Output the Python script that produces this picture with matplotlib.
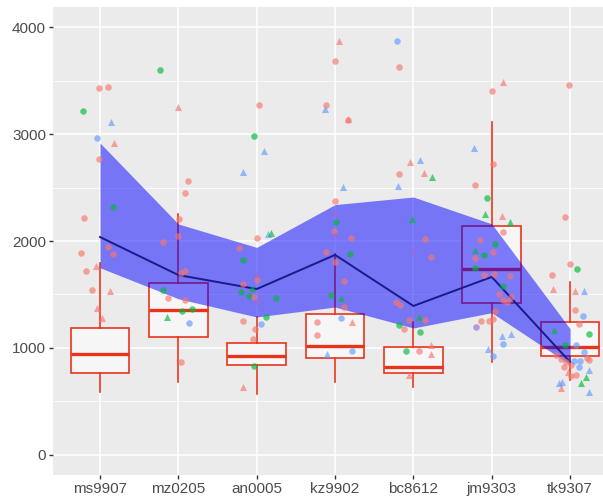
import matplotlib.pyplot as plt

# categories along the x axis
categories = ["ms9907", "mz0205", "an0005", "kz9902", "bc8612", "jm9303", "tk9307"]

# mean line and its band
mean_line = [2037, 1682, 1551, 1870, 1393, 1664, 869]
band_upper = [2916, 2159, 1940, 2340, 2411, 2160, 1180]
band_lower = [1750, 1460, 1290, 1383, 1187, 1330, 845]

# box statistics
box_whislo = [589, 682, 570, 682, 636, 869, 700]
box_q1 = [766, 1103, 841, 907, 766, 1417, 925]
box_med = [944, 1355, 925, 1019, 822, 1738, 1009]
box_q3 = [1187, 1607, 1047, 1318, 1009, 2140, 1243]
box_whishi = [1794, 2252, 1290, 1880, 1243, 3112, 1617]

# jittered points: (jitter, value, group, shape)
ms9907_pts = [(-0.22, 3215, "B", "o"), (-0.01, 3430, "A", "o"), (0.10, 3440, "A", "o"),
              (0.14, 3112, "C", "^"), (-0.04, 2963, "C", "o"), (0.18, 2916, "A", "^"),
              (-0.01, 2766, "A", "o"), (0.17, 2318, "B", "o"), (-0.20, 2215, "A", "o"),
              (0.10, 1944, "A", "o"), (0.17, 1879, "A", "o"), (-0.24, 1888, "A", "o"),
              (-0.18, 1720, "A", "o"), (-0.05, 1766, "A", "^"), (-0.10, 1542, "A", "o"),
              (0.13, 1533, "A", "^"), (-0.04, 1374, "A", "^"), (0.03, 1280, "A", "^")]
mz0205_pts = [(-0.24, 3598, "B", "o"), (0.00, 3252, "A", "^"), (0.12, 2561, "A", "o"),
              (0.09, 2449, "A", "o"), (0.01, 2206, "A", "o"), (-0.20, 1990, "A", "o"),
              (0.00, 2047, "A", "o"), (0.03, 1700, "A", "o"), (0.08, 1720, "A", "o"),
              (-0.19, 1542, "B", "o"), (-0.13, 1467, "A", "o"), (0.09, 1449, "A", "o"),
              (0.05, 1346, "B", "o"), (0.17, 1364, "B", "o"), (-0.15, 1290, "B", "^"),
              (0.13, 1234, "C", "o"), (0.04, 869, "A", "o")]
an0005_pts = [(0.03, 3271, "A", "o"), (-0.04, 2981, "B", "o"), (0.09, 2841, "C", "^"),
              (-0.18, 2645, "C", "^"), (0.14, 2065, "C", "^"), (0.18, 2075, "B", "^"),
              (0.00, 2028, "A", "o"), (-0.23, 1935, "A", "o"), (-0.17, 1822, "B", "o"),
              (0.00, 1682, "D", "o"), (0.01, 1636, "A", "o"), (-0.18, 1598, "A", "o"),
              (-0.20, 1523, "B", "o"), (-0.10, 1486, "B", "o"), (-0.06, 1561, "B", "^"),
              (-0.03, 1477, "A", "o"), (0.00, 1430, "D", "o"), (0.24, 1467, "B", "o"),
              (0.12, 1290, "B", "o"), (0.05, 1224, "C", "o"), (-0.17, 1252, "A", "o"),
              (-0.02, 1178, "A", "o"), (-0.05, 1084, "A", "o"), (-0.03, 832, "B", "o"),
              (-0.17, 636, "A", "^")]
kz9902_pts = [(0.05, 3869, "A", "^"), (0.00, 3682, "A", "o"), (-0.12, 3271, "A", "o"),
              (-0.13, 3234, "C", "^"), (0.17, 3131, "A", "o"), (0.16, 3140, "A", "^"),
              (0.10, 2505, "C", "^"), (0.00, 2374, "A", "o"), (0.00, 2262, "D", "o"),
              (0.01, 2178, "B", "o"), (-0.01, 2093, "A", "o"), (0.00, 2047, "D", "o"),
              (0.20, 2028, "A", "o"), (-0.12, 1897, "A", "o"), (0.19, 1879, "B", "o"),
              (0.00, 1804, "A", "o"), (0.12, 1626, "A", "o"), (-0.05, 1495, "B", "o"),
              (0.08, 1467, "B", "^"), (0.12, 1383, "A", "o"), (0.08, 1280, "C", "o"),
              (0.22, 1243, "A", "^"), (-0.23, 1243, "A", "o"), (-0.23, 1121, "A", "o"),
              (-0.10, 944, "C", "^"), (0.22, 972, "C", "o")]
bc8612_pts = [(-0.21, 3869, "C", "o"), (-0.18, 3626, "A", "o"), (-0.04, 2738, "A", "^"),
              (0.09, 2757, "C", "^"), (-0.18, 2626, "A", "o"), (0.13, 2635, "A", "^"),
              (0.24, 2598, "B", "^"), (-0.20, 2514, "C", "^"), (-0.02, 2206, "B", "^"),
              (0.15, 2019, "A", "o"), (0.00, 1907, "D", "o"), (0.22, 1850, "A", "o"),
              (-0.22, 1430, "A", "o"), (-0.17, 1400, "A", "o"), (-0.05, 1262, "A", "o"),
              (0.07, 1290, "B", "^"), (0.15, 1262, "A", "o"), (-0.19, 1215, "B", "o"),
              (-0.12, 1178, "A", "o"), (0.09, 1150, "B", "o"), (-0.09, 972, "B", "o"),
              (0.07, 972, "A", "o"), (0.23, 944, "A", "^"), (0.23, 1028, "A", "^"),
              (-0.06, 748, "A", "^")]
jm9303_pts = [(0.00, 3402, "A", "o"), (0.15, 3486, "A", "^"), (-0.23, 2869, "C", "^"),
              (0.01, 2720, "A", "o"), (-0.22, 2523, "A", "o"), (-0.06, 2402, "B", "o"),
              (-0.09, 2252, "B", "^"), (0.13, 2234, "A", "^"), (0.23, 2178, "B", "^"),
              (0.15, 2084, "A", "o"), (-0.15, 2009, "A", "o"), (0.04, 1972, "B", "o"),
              (-0.21, 1916, "B", "^"), (-0.22, 1841, "A", "o"), (-0.10, 1869, "B", "o"),
              (0.01, 1897, "A", "o"), (-0.22, 1748, "B", "o"), (-0.10, 1682, "A", "o"),
              (0.03, 1692, "A", "o"), (0.23, 1673, "A", "o"), (0.14, 1579, "B", "o"),
              (0.09, 1505, "A", "o"), (0.14, 1450, "A", "o"), (0.19, 1430, "A", "o"),
              (0.24, 1480, "A", "o"), (0.04, 1346, "A", "o"), (-0.14, 1252, "A", "o"),
              (-0.04, 1252, "A", "o"), (0.01, 1271, "A", "o"), (-0.20, 1196, "D", "o"),
              (0.13, 1112, "C", "^"), (0.24, 1131, "C", "^"), (0.15, 1037, "C", "o"),
              (-0.05, 991, "C", "^"), (0.01, 925, "C", "o")]
tk9307_pts = [(-0.01, 3458, "A", "o"), (-0.06, 2224, "A", "o"), (0.00, 1785, "A", "o"),
              (0.09, 1738, "B", "o"), (-0.23, 1682, "A", "o"), (-0.22, 1551, "A", "^"),
              (0.06, 1533, "A", "^"), (0.18, 1533, "C", "^"), (0.06, 1355, "A", "o"),
              (0.16, 1299, "C", "o"), (0.12, 1224, "A", "o"), (-0.21, 1168, "B", "^"),
              (0.24, 1131, "B", "o"), (-0.06, 1028, "B", "o"), (0.07, 1028, "C", "o"),
              (-0.18, 930, "A", "o"), (-0.12, 900, "A", "o"), (-0.05, 870, "A", "o"),
              (0.01, 840, "A", "o"), (0.05, 880, "C", "o"), (0.13, 880, "C", "o"),
              (0.18, 960, "C", "o"), (0.21, 910, "A", "o"), (0.24, 890, "A", "o"),
              (0.24, 794, "C", "^"), (-0.03, 780, "A", "^"), (0.01, 740, "A", "o"),
              (0.07, 750, "A", "o"), (0.20, 729, "B", "^"), (-0.14, 673, "C", "^"),
              (-0.10, 680, "C", "^"), (0.14, 673, "B", "^"), (-0.11, 626, "A", "^"),
              (0.24, 589, "C", "^"), (-0.08, 820, "A", "o"), (0.11, 820, "C", "o")]
all_pts = [ms9907_pts, mz0205_pts, an0005_pts, kz9902_pts, bc8612_pts, jm9303_pts, tk9307_pts]

group_colors = {"A": "#F8766D", "B": "#00BA38", "C": "#619CFF", "D": "#9B6AD6"}

plt.rcParams["font.family"] = ["Liberation Sans", "DejaVu Sans"]

fig = plt.figure(figsize=(6.03, 4.97), dpi=100)
ax = fig.add_axes([53 / 603, 22 / 497, 1 - 53 / 603, 468 / 497])
ax.set_facecolor("#EBEBEB")

xs = list(range(len(categories)))

# boxplots
stats = []
for i in xs:
    stats.append(dict(whislo=box_whislo[i], q1=box_q1[i], med=box_med[i],
                      q3=box_q3[i], whishi=box_whishi[i], fliers=[]))
red = "#E8341C"
ax.bxp(stats, positions=xs, widths=0.75, patch_artist=True, showcaps=False,
       showfliers=False,
       boxprops=dict(facecolor="#F6F6F6", edgecolor=red, linewidth=1.2),
       medianprops=dict(color=red, linewidth=2.4),
       whiskerprops=dict(color=red, linewidth=1.2), zorder=2)

# ribbon and mean line
ax.fill_between(xs, band_lower, band_upper, color="#0000FF", alpha=0.5,
                linewidth=0, zorder=3)
ax.plot(xs, mean_line, color="#1A1A8A", linewidth=1.4, zorder=4)

# points
for i, pts in enumerate(all_pts):
    for dx, val, grp, shp in pts:
        ax.scatter(i + dx, val, s=22 if shp == "o" else 26, marker=shp,
                   color=group_colors[grp], alpha=0.65, linewidths=0, zorder=5)

ax.set_xlim(-0.6, 6.42)
ax.set_ylim(-187, 4187)
ax.set_xticks(xs)
ax.set_xticklabels(categories)
ax.set_yticks([0, 1000, 2000, 3000, 4000])
ax.set_yticks([500, 1500, 2500, 3500], minor=True)
ax.grid(which="major", color="white", linewidth=1.1)
ax.grid(which="minor", color="white", linewidth=0.55)
ax.set_axisbelow(True)
for s in ax.spines.values():
    s.set_visible(False)
ax.tick_params(which="major", length=3, width=1, color="#333333",
               labelcolor="#4D4D4D", labelsize=11, pad=2)
ax.tick_params(which="minor", length=0)

fig.savefig("out.png", dpi=100)
